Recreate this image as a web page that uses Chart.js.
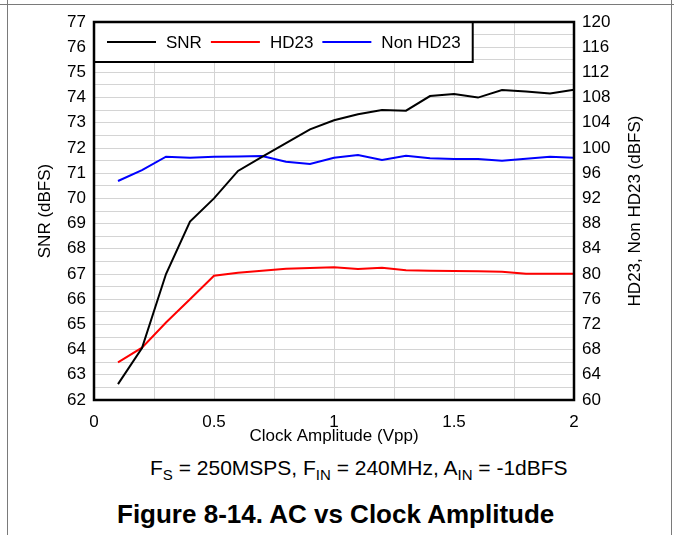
<!DOCTYPE html>
<html lang="en">
<head>
    <meta charset="UTF-8">
    <title>AC vs Clock Amplitude</title>
    <script src="https://cdn.jsdelivr.net/npm/chart.js"></script>
    <style>
        body { margin: 0; background: #fff; font-family: 'Liberation Sans', Arial, sans-serif; }
        .page { position: relative; width: 674px; height: 535px; overflow: hidden; }
        .hline { position: absolute; left: 0; top: 4px; width: 674px; height: 1px; background: #7a7a7a; }
        .vline { position: absolute; top: 0; width: 1px; height: 535px; background: #7a7a7a; }
        #chart { position: absolute; left: 0; top: 0; }
        .cond { position: absolute; left: 150px; top: 457px; font-size: 21px; line-height: 21px; white-space: nowrap; color: #000; }
        .cond sub { font-size: 15px; vertical-align: -5px; line-height: 0; }
        .caption { position: absolute; left: 117px; top: 501px; font-size: 26px; line-height: 26px; font-weight: bold; white-space: nowrap; color: #000; }
    </style>
</head>
<body>
    <div class="page">
        <div class="hline"></div>
        <div class="vline" style="left:7px"></div>
        <div class="vline" style="left:671px"></div>
        <canvas id="chart" width="674" height="450"></canvas>
        <div class="cond">F<sub>S</sub> = 250MSPS, F<sub>IN</sub> = 240MHz, A<sub>IN</sub> = -1dBFS</div>
        <div class="caption">Figure 8-14. AC vs Clock Amplitude</div>
    </div>

    <script>
        // values
        const amplitude = [0.1, 0.2, 0.3, 0.4, 0.5, 0.6, 0.7, 0.8, 0.9, 1.0,
                           1.1, 1.2, 1.3, 1.4, 1.5, 1.6, 1.7, 1.8, 1.9, 2.0];
        const snr = [62.63, 64.06, 67.0, 69.08, 70.0, 71.09, 71.65, 72.19, 72.74, 73.1,
                     73.34, 73.51, 73.48, 74.06, 74.14, 74.0, 74.3, 74.24, 74.16, 74.31];
        const hd23 = [65.98, 68.3, 72.3, 76.0, 79.73, 80.21, 80.52, 80.84, 80.95, 81.06,
                      80.79, 81.0, 80.58, 80.52, 80.48, 80.42, 80.37, 80.05, 80.05, 80.05];
        const nonHd23 = [94.76, 96.5, 98.62, 98.46, 98.62, 98.65, 98.73, 97.83, 97.46, 98.46,
                         98.89, 98.1, 98.78, 98.36, 98.25, 98.25, 97.99, 98.3, 98.62, 98.46];

        const FONT = "'Liberation Sans', Arial, sans-serif";
        const RIGHT_TITLE = 'HD23, Non HD23 (dBFS)';
        const pts = arr => arr.map((v, i) => ({ x: amplitude[i], y: v }));

        // legend box inside the plot, plot frame, right axis title (reads bottom to top)
        const boxLegend = {
            id: 'boxLegend',
            afterDraw(chart) {
                const ctx = chart.ctx, area = chart.chartArea;
                const sets = chart.data.datasets;
                ctx.save();
                ctx.font = '17px ' + FONT;
                let x = area.left + 13;
                const y = area.top + 20;
                const items = sets.map(ds => ({ ds, w: ctx.measureText(ds.label).width }));
                let right = x;
                items.forEach(it => { right += 49 + 10 + it.w + 9; });
                right += 3;
                ctx.fillStyle = '#fff';
                ctx.fillRect(area.left, area.top, right - area.left, 40);
                ctx.strokeStyle = '#000';
                ctx.lineWidth = 2;
                ctx.strokeRect(area.left, area.top, right - area.left, 40);
                ctx.textBaseline = 'middle';
                items.forEach(it => {
                    ctx.strokeStyle = it.ds.borderColor;
                    ctx.lineWidth = 2;
                    ctx.beginPath();
                    ctx.moveTo(x, y);
                    ctx.lineTo(x + 49, y);
                    ctx.stroke();
                    ctx.fillStyle = '#000';
                    ctx.fillText(it.ds.label, x + 59, y + 1);
                    x += 49 + 10 + it.w + 9;
                });
                // plot frame
                ctx.strokeStyle = '#000';
                ctx.lineWidth = 2.5;
                ctx.strokeRect(area.left, area.top, area.right - area.left, area.bottom - area.top);
                // right title
                ctx.translate(area.right + 61, (area.top + area.bottom) / 2);
                ctx.rotate(-Math.PI / 2);
                ctx.textAlign = 'center';
                ctx.textBaseline = 'middle';
                ctx.fillStyle = '#000';
                ctx.fillText(RIGHT_TITLE, 0, 0);
                ctx.restore();
            }
        };

        new Chart(document.getElementById('chart').getContext('2d'), {
            type: 'line',
            data: {
                datasets: [
                    { label: 'SNR', data: pts(snr), borderColor: '#000000', yAxisID: 'y' },
                    { label: 'HD23', data: pts(hd23), borderColor: '#ff0000', yAxisID: 'y1' },
                    { label: 'Non HD23', data: pts(nonHd23), borderColor: '#0000ff', yAxisID: 'y1' }
                ]
            },
            options: {
                responsive: false,
                animation: false,
                devicePixelRatio: 1,
                layout: { padding: { top: 22, left: 0, right: 0, bottom: 0 } },
                elements: {
                    point: { radius: 0 },
                    line: { borderWidth: 2, tension: 0 }
                },
                plugins: { legend: { display: false }, tooltip: { enabled: false } },
                scales: {
                    x: {
                        type: 'linear', min: 0, max: 2,
                        afterFit: s => { s.height = 50; },
                        grid: { color: '#d4d4d4', lineWidth: 1, drawTicks: false },
                        border: { display: false },
                        ticks: {
                            stepSize: 0.25, autoSkip: false, maxRotation: 0, padding: 12,
                            color: '#000', font: { family: FONT, size: 17 },
                            callback: v => (v % 0.5 === 0 ? v : '')
                        },
                        title: { display: true, text: 'Clock Amplitude (Vpp)', color: '#000',
                                 font: { family: FONT, size: 17 }, padding: { top: 0, bottom: 3 } }
                    },
                    y: {
                        position: 'left', min: 62, max: 77,
                        afterFit: s => { s.width = 94; },
                        grid: { color: '#d4d4d4', lineWidth: 1, drawTicks: false },
                        border: { display: false },
                        ticks: {
                            stepSize: 0.5, autoSkip: false, padding: 8,
                            color: '#000', font: { family: FONT, size: 17 },
                            callback: v => (v % 1 === 0 ? v : '')
                        },
                        title: { display: true, text: 'SNR (dBFS)', color: '#000',
                                 font: { family: FONT, size: 17 }, padding: { top: 35, bottom: 0 } }
                    },
                    y1: {
                        position: 'right', min: 60, max: 120,
                        afterFit: s => { s.width = 100; },
                        grid: { drawOnChartArea: false, drawTicks: false },
                        border: { display: false },
                        ticks: {
                            stepSize: 4, autoSkip: false, padding: 8,
                            color: '#000', font: { family: FONT, size: 17 }
                        },
                        title: { display: false }
                    }
                }
            },
            plugins: [boxLegend]
        });
    </script>
</body>
</html>
